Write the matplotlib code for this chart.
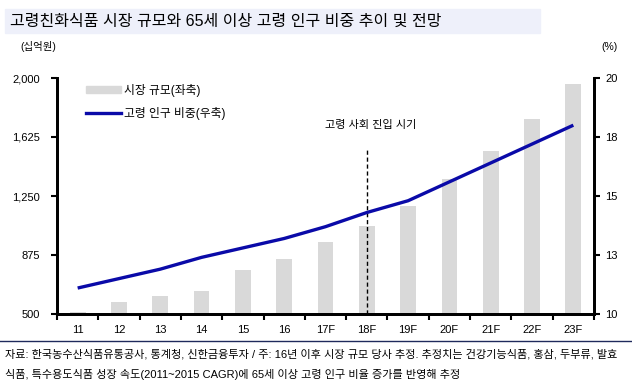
import matplotlib
matplotlib.use("Agg")
import matplotlib.pyplot as plt
from matplotlib.patches import Rectangle
from matplotlib.lines import Line2D
import numpy as np

plt.rcParams['font.family'] = ['Liberation Sans', 'Noto Sans CJK KR', 'DejaVu Sans']

categories = ['11', '12', '13', '14', '15', '16', '17F', '18F', '19F', '20F', '21F', '22F', '23F']
market_size = [512, 577, 612, 648, 780, 850, 960, 1062, 1188, 1360, 1536, 1741, 1963]
elderly_ratio = [11.1, 11.5, 11.9, 12.4, 12.8, 13.2, 13.7, 14.3, 14.8, 15.6, 16.4, 17.2, 18.0]
left_ticks = [500, 875, 1250, 1625, 2000]
right_ticks = [10, 12.5, 15, 17.5, 20]
right_labels = ['10', '13', '15', '18', '20']

title = '고령친화식품 시장 규모와 65세 이상 고령 인구 비중 추이 및 전망'
note1 = '자료: 한국농수산식품유통공사, 통계청, 신한금융투자 / 주: 16년 이후 시장 규모 당사 추정. 추정치는 건강기능식품, 홍삼, 두부류, 발효'
note2 = '식품, 특수용도식품 성장 속도(2011~2015 CAGR)에 65세 이상 고령 인구 비율 증가를 반영해 추정'

fig = plt.figure(figsize=(6.32, 3.86), dpi=100)
ax = fig.add_axes([57/632, 1-314/386, (594-57)/632, (314-78)/386])
ax2 = ax.twinx()

x = np.arange(len(categories))
ax.bar(x, market_size, width=0.38, color='#D9D9D9', zorder=1)
ax2.plot(x, elderly_ratio, color='#0A0AA8', lw=2.4, zorder=3, solid_capstyle='butt')

ax.set_xlim(-0.5, len(categories)-0.5)
ax.set_ylim(500, 2000)
ax2.set_ylim(10, 20)

ax.set_yticks(left_ticks)
ax.set_yticklabels([f'{v:,}' for v in left_ticks])
ax2.set_yticks(right_ticks)
ax2.set_yticklabels(right_labels)

ax.set_xticks(x)
ax.set_xticklabels(categories)
ax.set_xticks(np.arange(len(categories)+1) - 0.5, minor=True)
ax.tick_params(axis='x', which='major', length=0, pad=8, labelsize=8)
ax.tick_params(axis='x', which='minor', length=4, width=1.5, direction='out')
ax.tick_params(axis='y', length=4, width=1.5, labelsize=8, pad=8)
ax2.tick_params(axis='y', length=4, width=1.5, labelsize=8, pad=4)

for a in (ax, ax2):
    a.spines['top'].set_visible(False)
    for s in ('left', 'right', 'bottom'):
        a.spines[s].set_linewidth(2)
        a.spines[s].set_color('black')

# dashed line at 18F
idx = categories.index('18F')
ax.plot([idx, idx], [500, 1555], color='black', lw=1, ls=(0, (3, 2)), zorder=4)
ax.text(idx+0.1, 1700, '고령 사회 진입 시기', ha='center', va='center', fontsize=8)

# legend
leg_handles = [Rectangle((0, 0), 1, 1, color='#D9D9D9'),
               Line2D([0], [0], color='#0A0AA8', lw=2.4)]
ax.legend(leg_handles, ['시장 규모(좌축)', '고령 인구 비중(우축)'], loc='upper left',
          bbox_to_anchor=(0.035, 1.02), frameon=False, fontsize=8.5,
          handlelength=2.9, handleheight=0.5, handletextpad=0.3, labelspacing=0.85)

# title band
fig.patches.append(Rectangle((5/632, 1-33/386), 535/632, 24/386, transform=fig.transFigure,
                             color='#EEF0FA', zorder=0))
fig.text(10/632, 1-21/386, title, fontsize=11.5, va='center', ha='left')

fig.text(20/632, 1-47/386, '(십억원)', fontsize=7.5, va='center', ha='left')
fig.text(601/632, 1-47/386, '(%)', fontsize=7.5, va='center', ha='left')

fig.lines.append(Line2D([0, 1], [1-341/386, 1-341/386], transform=fig.transFigure,
                        color='#1F2A5C', lw=1))
fig.text(5/632, 1-354/386, note1, fontsize=8, va='center', ha='left')
fig.text(5/632, 1-374/386, note2, fontsize=8, va='center', ha='left')

fig.savefig('out.png', dpi=100)
